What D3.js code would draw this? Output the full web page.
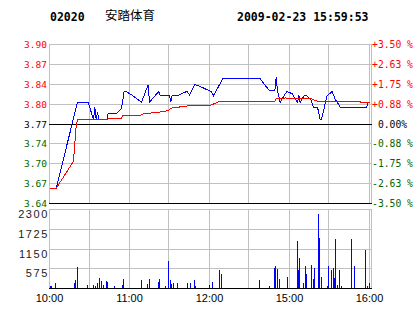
<!DOCTYPE html>
<html>
<head>
<meta charset="utf-8">
<script src="https://cdn.jsdelivr.net/npm/d3@7/dist/d3.min.js"></script>
<style>
  body { margin: 0; background: #fff; }
  svg text { font-family: 'DejaVu Sans Mono', monospace; }
</style>
</head>
<body>
<div id="chart"></div>
<script>
const stockCode = '02020';
const stockName = '安踏体育';
const stamp = '2009-02-23 15:59:53';
const prevClose = 3.77;

const pctTicks = [3.5, 2.625, 1.75, 0.875, 0, -0.875, -1.75, -2.625, -3.5];
const priceLabels = ['3.90', '3.87', '3.84', '3.80', '3.77', '3.74', '3.70', '3.67', '3.64'];
const pctLabels = ['+3.50 %', '+2.63 %', '+1.75 %', '+0.88 %', '0.00%', '-0.88 %', '-1.75 %', '-2.63 %', '-3.50 %'];
const volTicks = [2300, 1725, 1150, 575, 0];
const gridTimes = ['10:00', '10:30', '11:00', '11:30', '12:00', '14:30', '15:00', '15:30', '16:00'];
const timeLabels = ['10:00', '11:00', '12:00', '15:00', '16:00'];

// last price
const price = [
    ['10:00', 3.664], ['10:05', 3.664], ['10:21', 3.807], ['10:29', 3.807], ['10:33', 3.778],
    ['10:34', 3.799], ['10:35', 3.778], ['10:36', 3.790], ['10:37', 3.778], ['10:43', 3.778],
    ['10:44', 3.788], ['10:50', 3.788], ['10:54', 3.796], ['10:56', 3.825], ['10:58', 3.824],
    ['11:01', 3.820], ['11:09', 3.807], ['11:14', 3.836], ['11:15', 3.807], ['11:22', 3.825],
    ['11:23', 3.818], ['11:30', 3.818], ['11:31', 3.807], ['11:32', 3.818], ['11:36', 3.818],
    ['11:43', 3.825], ['11:45', 3.819], ['11:49', 3.836], ['11:52', 3.834], ['12:01', 3.825],
    ['12:03', 3.818], ['12:10', 3.846], ['14:38', 3.846], ['14:41', 3.837], ['14:45', 3.826],
    ['14:49', 3.826], ['14:50', 3.848], ['14:51', 3.826], ['14:53', 3.807], ['14:58', 3.825],
    ['15:02', 3.821], ['15:06', 3.807], ['15:07', 3.818], ['15:08', 3.807], ['15:09', 3.811],
    ['15:11', 3.818], ['15:13', 3.818], ['15:16', 3.811], ['15:18', 3.799], ['15:21', 3.799],
    ['15:23', 3.778], ['15:24', 3.778], ['15:28', 3.817], ['15:32', 3.825], ['15:34', 3.813],
    ['15:38', 3.799], ['15:58', 3.799], ['15:59', 3.807], ['16:00', 3.807]
];

// average price (red)
const avgPrice = [
    ['10:00', 3.664], ['10:05', 3.664], ['10:18', 3.709], ['10:20', 3.768], ['10:21', 3.778],
    ['10:43', 3.778], ['10:45', 3.780], ['10:54', 3.780], ['10:55', 3.785], ['11:08', 3.785],
    ['11:11', 3.788], ['11:21', 3.790], ['11:29', 3.793], ['11:31', 3.797], ['11:47', 3.802],
    ['12:01', 3.802], ['12:03', 3.804], ['12:08', 3.809], ['14:49', 3.809], ['14:50', 3.813],
    ['14:57', 3.814], ['15:16', 3.813], ['15:19', 3.810], ['15:22', 3.808], ['15:53', 3.808],
    ['15:54', 3.806], ['16:00', 3.807]
];

const volume = [
    ['10:01', 70], ['10:02', 60], ['10:05', 155], ['10:19', 155], ['10:20', 262], ['10:21', 621],
    ['10:29', 97], ['10:33', 97], ['10:35', 68], ['10:36', 165], ['10:38', 301], ['10:39', 204],
    ['10:41', 116], ['10:43', 213], ['10:44', 194], ['10:49', 68], ['10:55', 97], ['10:56', 272],
    ['11:09', 262], ['11:14', 126], ['11:15', 272], ['11:22', 194], ['11:23', 272], ['11:27', 68],
    ['11:30', 805], ['11:31', 233], ['11:32', 126], ['11:33', 155], ['11:36', 155], ['11:44', 155],
    ['11:46', 155], ['11:49', 242], ['11:50', 68], ['12:00', 97], ['12:03', 184], ['12:08', 534],
    ['12:09', 417], ['14:38', 242], ['14:45', 68], ['14:49', 592], ['14:50', 650], ['14:51', 563],
    ['14:53', 291], ['14:59', 330], ['15:06', 1377], ['15:07', 534], ['15:08', 883], ['15:11', 155],
    ['15:12', 650], ['15:13', 417], ['15:17', 679], ['15:18', 272], ['15:19', 592], ['15:22', 2164],
    ['15:23', 1465], ['15:24', 330], ['15:29', 68], ['15:30', 650], ['15:32', 534], ['15:33', 592],
    ['15:34', 301], ['15:35', 1436], ['15:36', 97], ['15:38', 534], ['15:39', 68], ['15:47', 1436],
    ['15:49', 650], ['15:57', 1116], ['15:59', 68], ['16:00', 155]
];

(function () {
    'use strict';

    const RED = '#ff0000', GREEN = '#006600', BLUE = '#0000ff', GRID = '#c0c0c0';

    // minutes of trading since 10:00, lunch break collapsed
    function toMin(t) {
        const p = t.split(':');
        const m = +p[0] * 60 + +p[1];
        return m <= 750 ? m - 600 : m - 870 + 150;
    }
    function crisp(v) { return Math.floor(v) + 0.5; }
    function toPct(p) { return (p / prevClose - 1) * 100; }

    const left = 49, right = 371;
    const xScale = d3.scaleLinear().domain([0, 241.5]).range([left, right]);
    const yScale = d3.scaleLinear().domain([-3.5, 3.5]).range([203.5, 44.5]);
    const vScale = d3.scaleLinear().domain([0, 2300]).range([288.5, 209.5]);

    const svg = d3.select('#chart').append('svg')
        .attr('width', 414).attr('height', 314);

    // header
    svg.append('text').attr('x', 50).attr('y', 20.5).text(stockCode)
        .style('font-size', '11.5px').style('font-weight', 'bold');
    svg.append('text').attr('x', 105).attr('y', 20).text(stockName)
        .style('font-family', "'Noto Sans CJK SC', sans-serif").style('font-size', '12.5px');
    svg.append('text').attr('x', 237).attr('y', 20.5).text(stamp)
        .style('font-size', '11.5px').style('font-weight', 'bold');

    const grid = svg.append('g').attr('class', 'grid').attr('shape-rendering', 'crispEdges');

    // vertical grid in both panels
    [[44.5, 203.5], [209.5, 288.5]].forEach(function (span) {
        grid.selectAll(null).data(gridTimes).enter().append('line')
            .attr('x1', function (d) { return crisp(xScale(toMin(d))); })
            .attr('x2', function (d) { return crisp(xScale(toMin(d))); })
            .attr('y1', span[0]).attr('y2', span[1])
            .style('stroke', GRID);
        grid.append('line').attr('x1', crisp(right)).attr('x2', crisp(right))
            .attr('y1', span[0]).attr('y2', span[1]).style('stroke', GRID);
    });

    // horizontal price grid
    grid.selectAll(null).data(pctTicks).enter().append('line')
        .attr('x1', left).attr('x2', right + 1)
        .attr('y1', function (d) { return crisp(yScale(d)); })
        .attr('y2', function (d) { return crisp(yScale(d)); })
        .style('stroke', function (d, i) {
            return (d === 0 || i === pctTicks.length - 1) ? '#000' : GRID;
        });

    // horizontal volume grid
    grid.selectAll(null).data(volTicks).enter().append('line')
        .attr('x1', left).attr('x2', right + 1)
        .attr('y1', function (d) { return crisp(vScale(d)); })
        .attr('y2', function (d) { return crisp(vScale(d)); })
        .style('stroke', function (d) { return d === 0 ? '#000' : GRID; });

    function tickColor(d) {
        if (d > 0) return RED;
        if (d < 0) return GREEN;
        return '#000';
    }

    // left price labels
    svg.append('g').selectAll('text').data(pctTicks).enter().append('text')
        .attr('x', 47).attr('y', function (d) { return crisp(yScale(d)) + 3.5; })
        .style('text-anchor', 'end').style('font-size', '9.5px')
        .style('fill', tickColor)
        .text(function (d, i) { return priceLabels[i]; });

    // right percent labels
    svg.append('g').selectAll('text').data(pctTicks).enter().append('text')
        .attr('x', 392.5).attr('y', function (d) { return crisp(yScale(d)) + 3.5; })
        .style('text-anchor', 'middle').style('font-size', '9.7px')
        .style('fill', tickColor)
        .text(function (d, i) { return pctLabels[i]; });

    // volume labels
    svg.append('g').selectAll('text').data(volTicks.filter(function (d) { return d > 0; }))
        .enter().append('text')
        .attr('x', 49).attr('y', function (d) { return crisp(vScale(d)) + 8; })
        .style('text-anchor', 'end').style('font-family', "'Liberation Sans', sans-serif")
        .style('font-size', '11px').style('letter-spacing', '1.6px').style('fill', '#222')
        .text(function (d) { return d; });

    // time labels
    svg.append('g').selectAll('text').data(timeLabels).enter().append('text')
        .attr('x', function (d) { return xScale(toMin(d)) + 0.5; }).attr('y', 302)
        .style('text-anchor', 'middle').style('font-family', "'Liberation Sans', sans-serif")
        .style('font-size', '11px').style('fill', '#000')
        .text(function (d) { return d; });

    // volume bars
    svg.append('g').attr('shape-rendering', 'crispEdges').selectAll('rect').data(volume).enter()
        .append('rect')
        .attr('x', function (d) { return Math.floor(xScale(toMin(d[0]))); })
        .attr('width', 1)
        .attr('y', function (d) { return Math.round(vScale(d[1])); })
        .attr('height', function (d) { return 288 - Math.round(vScale(d[1])); })
        .style('fill', BLUE);

    const line = d3.line()
        .x(function (d) { return xScale(toMin(d[0])) + 0.5; })
        .y(function (d) { return yScale(toPct(d[1])) + 0.5; });

    svg.append('path').datum(price).attr('d', line)
        .style('fill', 'none').style('stroke', BLUE).style('stroke-width', 1)
        .attr('shape-rendering', 'crispEdges');
    svg.append('path').datum(avgPrice).attr('d', line)
        .style('fill', 'none').style('stroke', RED).style('stroke-width', 1)
        .attr('shape-rendering', 'crispEdges');
}());
</script>
</body>
</html>
